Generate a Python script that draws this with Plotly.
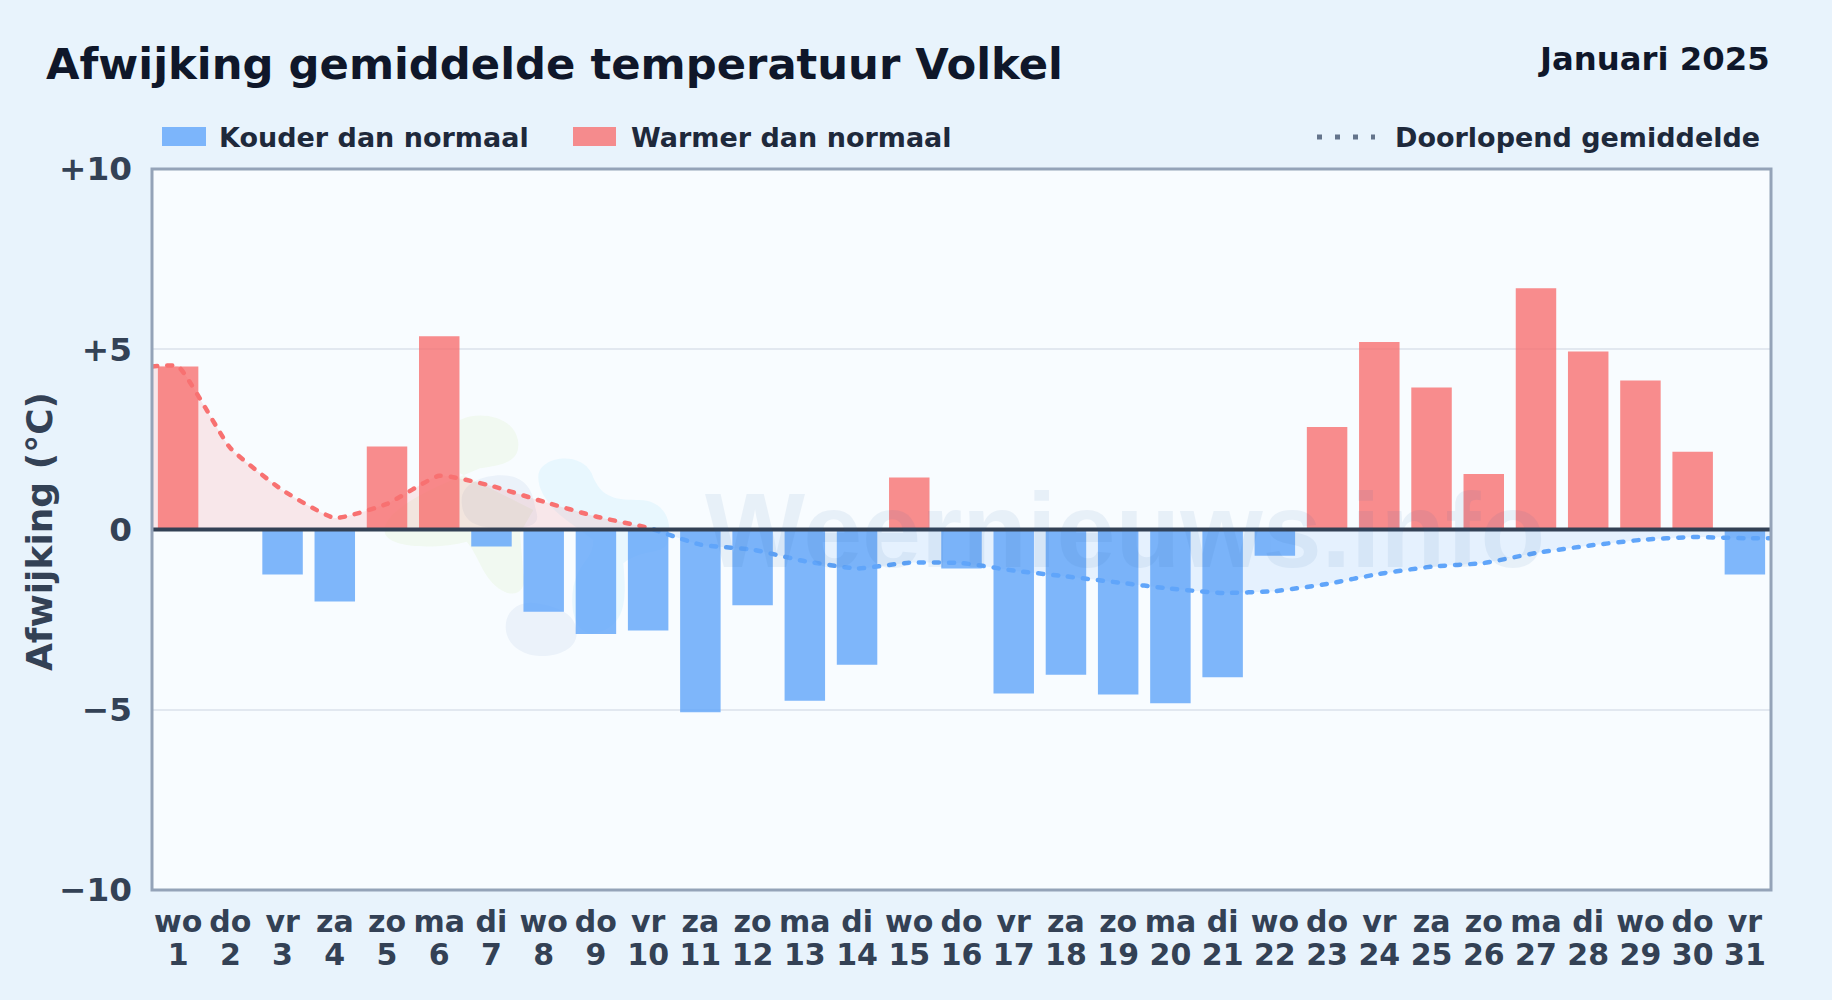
import re
import numpy as np
import plotly.graph_objects as go

# ---- data ----
weekdays = ["wo","do","vr","za","zo","ma","di","wo","do","vr","za","zo","ma","di","wo","do",
            "vr","za","zo","ma","di","wo","do","vr","za","zo","ma","di","wo","do","vr"]
days = list(range(1, 32))
anomaly = [4.52, 0.0, -1.25, -2.0, 2.3, 5.36, -0.47, -2.28, -2.9, -2.8, -5.07, -2.1, -4.75, -3.75,
           1.44, -1.08, -4.55, -4.03, -4.58, -4.82, -4.1, -0.73, 2.84, 5.2, 3.94, 1.54, 6.69, 4.94,
           4.13, 2.16, -1.25]
running_mean = [4.52, 2.26, 1.09, 0.32, 0.71, 1.49, 1.21, 0.77, 0.36, 0.05, -0.42, -0.56, -0.88,
                -1.08, -0.92, -0.93, -1.14, -1.30, -1.47, -1.64, -1.76, -1.71, -1.51, -1.23, -1.03,
                -0.93, -0.65, -0.45, -0.29, -0.21, -0.24]
y_ticks = [-10, -5, 0, 5, 10]
y_labels = ["−10", "−5", "0", "+5", "+10"]

# ---- layout constants (pixels) ----
W, H = 1832, 1000
L, R, T, B = 152, 1771, 169, 890
FONT = "DejaVu Sans"
INK, TEXT, TICK = "#0f172a", "#1e293b", "#334155"
COLD, WARM = "#60a5fa", "#f87171"

def fx(p): return (p - L) / (R - L)
def fy(p): return (B - p) / (B - T)

def blob(path, ox=360, oy=400, s=3):
    nums = iter(re.findall(r"-?\d+\.?\d*|[A-Za-z]", path))
    out, is_x = [], True
    for tok in nums:
        if tok.isalpha():
            out.append(tok); is_x = True
        elif is_x:
            out.append(f"{fx(ox + float(tok) / s):.5f}"); is_x = False
        else:
            out.append(f"{fy(oy + float(tok) / s):.5f}"); is_x = True
    return " ".join(out)

x = np.array(days, float)
y = np.array(running_mean, float)
xfull = np.concatenate([[0.5], x, [31.5]])
yfull = np.concatenate([[y[0]], y, [y[-1]]])
# where the running mean changes sign
i0 = int(np.argmax(yfull < 0))
xc = xfull[i0-1] + (xfull[i0] - xfull[i0-1]) * yfull[i0-1] / (yfull[i0-1] - yfull[i0])
x_w = np.concatenate([xfull[:i0], [xc]]); y_w = np.concatenate([yfull[:i0], [0]])
x_c = np.concatenate([[xc], xfull[i0:]]); y_c = np.concatenate([[0], yfull[i0:]])

fig = go.Figure()
fig.add_bar(x=days, y=[v if v < 0 else None for v in anomaly], name="Kouder dan normaal",
            width=0.775, marker=dict(color=COLD, line_width=0), opacity=0.8, showlegend=False)
fig.add_bar(x=days, y=[v if v > 0 else None for v in anomaly], name="Warmer dan normaal",
            width=0.775, marker=dict(color=WARM, line_width=0), opacity=0.8, showlegend=False)
for xs, ys, col, fc in [(x_w, y_w, WARM, "rgba(248,113,113,0.15)"), (x_c, y_c, COLD, "rgba(96,165,250,0.12)")]:
    fig.add_scatter(x=xs, y=ys, mode="lines", fill="tozeroy", fillcolor=fc, showlegend=False,
                    name="Doorlopend gemiddelde", hoverinfo="skip",
                    line=dict(color=col, width=4.5, shape="spline", smoothing=0.45, dash="5px,10px"))
# carries the second tick-label row (day numbers)
fig.add_scatter(x=days, y=[0] * len(days), xaxis="x2", mode="markers", marker=dict(opacity=0),
                showlegend=False, hoverinfo="skip")

shapes = [
    # logo watermark, behind everything
    dict(type="path", xref="paper", yref="paper", layer="below", line_width=0, fillcolor="rgba(132,204,22,0.06)",
         path=blob("M300 60 C360 30 470 50 475 130 C478 190 420 195 360 205 L300 230 C200 270 60 340 75 400 "
                   "C90 450 250 445 320 425 C360 470 370 550 440 578 C480 590 500 560 490 520 L480 400 L520 330 L300 220 Z")),
    dict(type="path", xref="paper", yref="paper", layer="below", line_width=0, fillcolor="rgba(56,189,248,0.08)",
         path=blob("M535 230 C535 170 660 150 695 220 C720 290 760 300 830 300 C900 295 940 350 925 420 "
                   "C915 470 850 440 790 490 C800 600 800 680 700 700 C640 700 630 620 640 560 C660 480 700 480 700 420 "
                   "C650 380 580 340 560 300 C540 270 535 250 535 230 Z")),
    dict(type="path", xref="paper", yref="paper", layer="below", line_width=0, fillcolor="rgba(30,90,170,0.06)",
         path=blob("M305 300 C305 240 400 215 460 230 C520 250 520 300 530 340 C540 380 500 385 420 383 "
                   "C340 385 305 360 305 300 Z")),
    dict(type="path", xref="paper", yref="paper", layer="below", line_width=0, fillcolor="rgba(30,90,170,0.06)",
         path=blob("M437 680 C437 630 480 600 530 610 C590 620 650 640 650 700 C650 750 590 770 540 768 "
                   "C480 765 437 730 437 680 Z")),
    # zero line on top of the bars
    dict(type="line", xref="paper", yref="y", x0=0, x1=1, y0=0, y1=0, layer="above",
         line=dict(color=TICK, width=4)),
    # plot frame
    dict(type="rect", xref="paper", yref="paper", x0=0, x1=1, y0=0, y1=1, layer="above",
         line=dict(color="#94a3b8", width=3)),
    # legend keys
    dict(type="rect", xref="paper", yref="paper", x0=fx(162), x1=fx(206), y0=fy(127), y1=fy(146),
         line_width=0, fillcolor=COLD, opacity=0.8),
    dict(type="rect", xref="paper", yref="paper", x0=fx(573), x1=fx(616), y0=fy(127), y1=fy(146),
         line_width=0, fillcolor=WARM, opacity=0.8),
    dict(type="line", xref="paper", yref="paper", x0=fx(1317), x1=fx(1375), y0=fy(137), y1=fy(137),
         line=dict(color="#64748b", width=5, dash="5px,13px")),
]

def note(text, px, py, size, color=TEXT, anchor="left", **kw):
    return dict(text=f"<b>{text}</b>", xref="paper", yref="paper", x=fx(px), y=fy(py), xanchor=anchor,
                yanchor="middle", showarrow=False, font=dict(family=FONT, size=size, color=color), **kw)

annotations = [
    note("Januari 2025", 1772, 59, 32.3, INK, "right"),
    note("Kouder dan normaal", 217, 137, 27),
    note("Warmer dan normaal", 629, 137, 27),
    note("Doorlopend gemiddelde", 1762, 137, 27, TEXT, "right"),
    note("Afwijking (°C)", 39, 531, 36, TICK, "center", textangle=-90),
    dict(text="<b>Weernieuws.info</b>", xref="paper", yref="paper", x=fx(1125), y=fy(530), xanchor="center",
         yanchor="middle", showarrow=False, opacity=0.07,
         font=dict(family="Liberation Sans", size=106, color="#1e5fa8")),
]

tick_font = dict(family=FONT, size=30, color=TICK)
fig.update_layout(
    width=W, height=H, autosize=False, barmode="overlay",
    margin=dict(l=L, r=W - R, t=T, b=H - B, pad=0),
    paper_bgcolor="#e8f3fc", plot_bgcolor="#f8fcff", showlegend=False,
    title=dict(text="<b>Afwijking gemiddelde temperatuur Volkel</b>", x=46 / W, xanchor="left",
               y=1 - 64 / H, yanchor="middle", font=dict(family=FONT, size=43.3, color=INK)),
    shapes=shapes, annotations=annotations,
    xaxis=dict(range=[0.5, 31.5], tickmode="array", tickvals=days,
               ticktext=[f"<b>{w}</b>" for w in weekdays], ticklabelstandoff=11,
               tickangle=0, tickfont=tick_font, ticks="", showgrid=False, zeroline=False, showline=False),
    xaxis2=dict(range=[0.5, 31.5], overlaying="x", anchor="y", side="bottom", tickmode="array", tickvals=days,
                ticktext=[f"<b>{d}</b>" for d in days], ticklabelstandoff=44,
                tickangle=0, tickfont=tick_font, ticks="", showgrid=False, zeroline=False, showline=False),
    yaxis=dict(range=[-10, 10], tickmode="array", tickvals=y_ticks,
               ticktext=[f"<b>{t}</b>" for t in y_labels], ticklabelstandoff=19,
               tickfont=dict(family=FONT, size=32.7, color=TICK), ticks="", showgrid=True,
               gridcolor="#e2e8f0", gridwidth=2, zeroline=False, showline=False),
)

fig.write_html("out.html", config={"displayModeBar": False},
               post_script="document.body.style.margin='0';document.body.style.overflow='hidden';"
                           "document.querySelectorAll('.scatterlayer path.js-line').forEach(p=>p.style.strokeLinecap='round');")
